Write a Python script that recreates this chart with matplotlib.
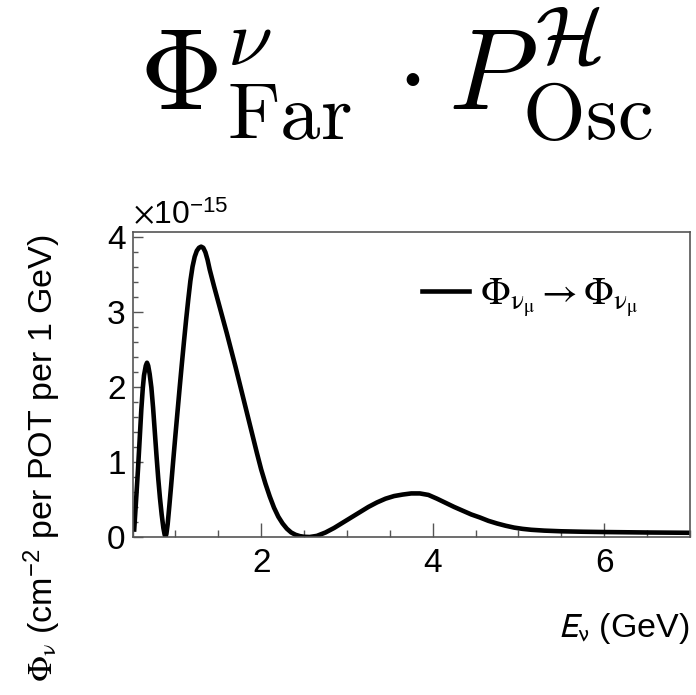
import numpy as np
import matplotlib
matplotlib.use("Agg")
import matplotlib.pyplot as plt
from matplotlib.ticker import MultipleLocator, FormatStrFormatter

plt.rcParams['font.family'] = ['Liberation Sans', 'DejaVu Sans']

# neutrino energy (GeV) and oscillated far flux (units of 1e-15 cm^-2 per POT per 1 GeV)
energy = [0.520, 0.545, 0.564, 0.585, 0.603, 0.620, 0.634, 0.655, 0.669, 0.683,
          0.700, 0.720, 0.740, 0.760, 0.780, 0.800, 0.820, 0.840, 0.860, 0.875,
          0.885, 0.895, 0.910, 0.930, 0.950, 0.975, 1.000, 1.025, 1.050, 1.075,
          1.100, 1.125, 1.150, 1.175, 1.200, 1.225, 1.250, 1.275, 1.300, 1.325,
          1.350, 1.375, 1.400, 1.450, 1.500, 1.550, 1.600, 1.650, 1.700, 1.750,
          1.800, 1.850, 1.900, 1.950, 2.000, 2.050, 2.100, 2.150, 2.200, 2.250,
          2.300, 2.350, 2.400, 2.450, 2.500, 2.565, 2.650, 2.750, 2.850, 2.950,
          3.050, 3.150, 3.250, 3.350, 3.450, 3.550, 3.650, 3.750, 3.850, 3.950,
          4.050, 4.150, 4.250, 4.350, 4.450, 4.550, 4.650, 4.750, 4.850, 4.950,
          5.050, 5.150, 5.300, 5.500, 5.750, 6.000, 6.500, 7.000]
flux = [0.10, 0.55, 0.90, 1.33, 1.70, 1.98, 2.15, 2.28, 2.32, 2.28,
        2.17, 1.99, 1.72, 1.40, 1.08, 0.78, 0.52, 0.30, 0.12, 0.03,
        0.005, 0.04, 0.17, 0.42, 0.68, 1.02, 1.35, 1.67, 1.99, 2.30,
        2.60, 2.89, 3.16, 3.41, 3.60, 3.73, 3.81, 3.85, 3.865, 3.85,
        3.79, 3.69, 3.56, 3.34, 3.13, 2.92, 2.71, 2.49, 2.27, 2.04,
        1.81, 1.58, 1.35, 1.12, 0.90, 0.71, 0.54, 0.39, 0.27, 0.18,
        0.11, 0.06, 0.03, 0.012, 0.003, 0.0, 0.015, 0.06, 0.12, 0.19,
        0.26, 0.33, 0.40, 0.46, 0.51, 0.545, 0.565, 0.58, 0.58, 0.56,
        0.51, 0.455, 0.40, 0.35, 0.30, 0.26, 0.215, 0.18, 0.15, 0.125,
        0.108, 0.096, 0.085, 0.076, 0.070, 0.066, 0.060, 0.056]

title = r'$\Phi^{\nu}_{\mathrm{Far}}\,\cdot P^{\mathcal{H}}_{\mathrm{Osc}}$'
legend_label = r'$\Phi_{\mathrm{ν}_{\mathrm{μ}}} \rightarrow \Phi_{\mathrm{ν}_{\mathrm{μ}}}$'
x_label = r'$E_{\mathrm{ν}}$ (GeV)'
y_label = r'$\Phi_{\mathrm{ν}}$ (cm$^{\mathregular{-2}}$ per POT per 1 GeV)'
exponent = r'$\times$10$^{\mathregular{-15}}$'

fig = plt.figure(figsize=(6.96, 6.95), dpi=100)
ax = fig.add_axes([132.5 / 696, 1 - 537 / 695, (690 - 132.5) / 696, (537 - 232) / 695])

line, = ax.plot(energy, flux, color='black', lw=3.3, solid_joinstyle='round')

ax.set_xlim(0.5, 7.0)
ax.set_ylim(0, 4.06)
ax.xaxis.set_major_locator(MultipleLocator(2))
ax.xaxis.set_minor_locator(MultipleLocator(0.5))
ax.yaxis.set_major_locator(MultipleLocator(1))
ax.yaxis.set_minor_locator(MultipleLocator(0.2))
ax.xaxis.set_major_formatter(FormatStrFormatter('%d'))
ax.yaxis.set_major_formatter(FormatStrFormatter('%d'))

frame_col = '#555555'
for s in ax.spines.values():
    s.set_color(frame_col)
    s.set_linewidth(1.2)
ax.tick_params(axis='both', which='both', direction='in', color=frame_col,
               top=False, right=False, labelsize=24, width=1.0)
ax.tick_params(axis='x', which='major', length=10, pad=8)
ax.tick_params(axis='x', which='minor', length=5)
ax.tick_params(axis='y', which='major', length=7, pad=5)
ax.tick_params(axis='y', which='minor', length=3.5)

leg = ax.legend([line], [legend_label], loc='center left', bbox_to_anchor=(0.519, 0.785),
                frameon=False, fontsize=28, borderpad=0, borderaxespad=0,
                handlelength=1.2, handletextpad=0.3)
for t in leg.get_texts():
    t.set_math_fontfamily('stix')

fig.text(0.569, 1 - 110 / 695, title, fontsize=83, math_fontfamily='cm',
         ha='center', va='baseline')
fig.text(0.991, 1 - 637 / 695, x_label, fontsize=24.5, math_fontfamily='stixsans',
         ha='right', va='baseline')
fig.text(42 / 696, 1 - 458 / 695, y_label, fontsize=24.5, rotation=90,
         math_fontfamily='stix', ha='center', va='center')
fig.text(133 / 696, 1 - 224 / 695, exponent, fontsize=23, math_fontfamily='stixsans',
         ha='left', va='baseline')

fig.savefig('out.png', dpi=100)
